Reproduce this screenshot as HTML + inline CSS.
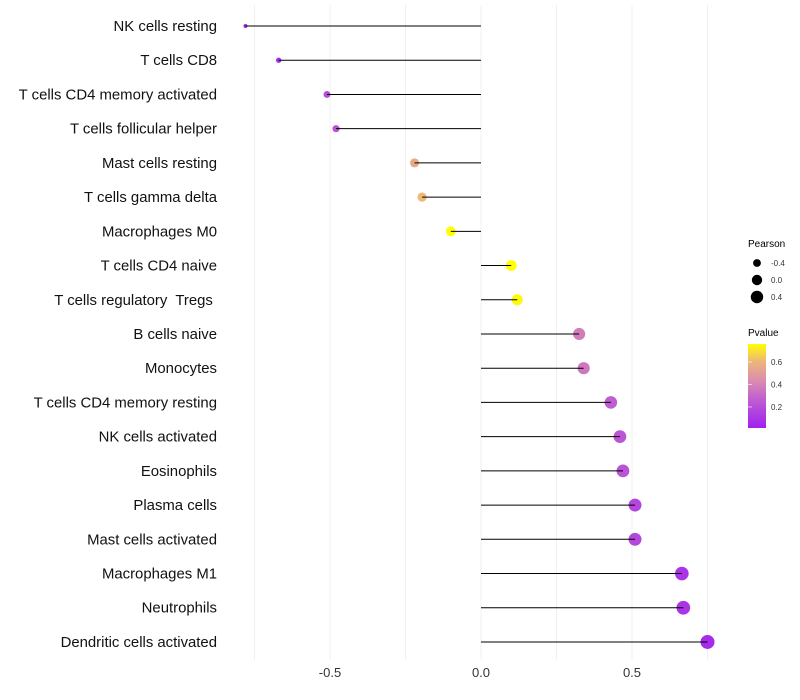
<!DOCTYPE html>
<html><head><meta charset="utf-8"><style>
body{margin:0;background:#fff;}
svg{display:block;font-family:"Liberation Sans",sans-serif;}
</style></head><body>
<svg id="chart" width="800" height="700">
<defs><linearGradient id="pg" x1="0" y1="1" x2="0" y2="0">
<stop offset="0" stop-color="#A020F0"/><stop offset="0.35" stop-color="#C060D0"/><stop offset="0.55" stop-color="#DA8AB0"/><stop offset="0.8" stop-color="#EDB878"/><stop offset="1" stop-color="#FFFF00"/></linearGradient></defs>
<g id="grid"></g>
<g id="marks"></g>
<g id="labels"></g>
<g id="ticks"></g>
<g>
<text x="748" y="247" font-size="10">Pearson</text>
<g id="sizeLeg"></g>
</g>
<g>
<text x="748" y="336" font-size="10">Pvalue</text>
<rect x="748" y="344" width="18" height="84" fill="url(#pg)"/>
<g id="colLeg"></g>
</g>
</svg>
<script>
const cells=["NK cells resting","T cells CD8","T cells CD4 memory activated","T cells follicular helper","Mast cells resting","T cells gamma delta","Macrophages M0","T cells CD4 naive","T cells regulatory  Tregs ","B cells naive","Monocytes","T cells CD4 memory resting","NK cells activated","Eosinophils","Plasma cells","Mast cells activated","Macrophages M1","Neutrophils","Dendritic cells activated"];
const pearson=[-0.78,-0.67,-0.51,-0.48,-0.22,-0.195,-0.10,0.10,0.12,0.325,0.34,0.43,0.46,0.47,0.51,0.51,0.665,0.67,0.75];
const pvalue=[0.05,0.08,0.2,0.22,0.55,0.6,0.76,0.76,0.75,0.38,0.36,0.27,0.24,0.23,0.17,0.17,0.1,0.1,0.06];
const xTicks=[-0.5,0,0.5];
const gridVals=[-0.75,-0.5,-0.25,0,0.25,0.5,0.75];
const sizeLegVals=[-0.4,0.0,0.4];
const colLegVals=[0.2,0.4,0.6];
const NS="http://www.w3.org/2000/svg";
const X=v=>481+v*302;
const Y=i=>26+i*34.22;
const R=v=>Math.sqrt(Math.max(1.5,27+29.5*v));
const stops=[[0.013,[160,32,240]],[0.28,[192,96,208]],[0.43,[218,138,176]],[0.6,[237,184,120]],[0.76,[255,255,0]]];
function col(p){if(p<=stops[0][0])return `rgb(${stops[0][1]})`;for(let k=1;k<stops.length;k++){if(p<=stops[k][0]){const a=stops[k-1],b=stops[k],t=(p-a[0])/(b[0]-a[0]);return `rgb(${a[1].map((c,j)=>Math.round(c+(b[1][j]-c)*t))})`;}}return "rgb(255,255,0)";}
function mk(tag,attrs,parent,text){const e=document.createElementNS(NS,tag);for(const k in attrs)e.setAttribute(k,attrs[k]);if(text!==undefined)e.textContent=text;document.getElementById(parent).appendChild(e);return e;}
gridVals.forEach(v=>{const e=mk('line',{x1:X(v),x2:X(v),y1:5,y2:660,stroke:'#f0f0f0','stroke-width':1},'grid');

});
cells.forEach((c,i)=>{
const p=mk('circle',{cx:X(pearson[i]),cy:Y(i),r:R(pearson[i]),fill:col(pvalue[i])},'marks');


const s=mk('line',{x1:X(0),x2:X(pearson[i]),y1:Y(i),y2:Y(i),stroke:'#000','stroke-width':1},'marks');


const t=mk('text',{x:217,y:Y(i)+5,'text-anchor':'end','font-size':14.9,fill:'#111'},'labels',c);


t.setAttribute('xml:space','preserve');t.style.whiteSpace='pre';
});
xTicks.forEach(v=>{const t=mk('text',{x:X(v),y:677,'text-anchor':'middle','font-size':13,fill:'#333'},'ticks',v===0?'0.0':v.toFixed(1));

});
sizeLegVals.forEach((v,i)=>{const y=263+i*17;
const c=mk('circle',{cx:757,cy:y,r:R(v),fill:'#000'},'sizeLeg');


const t=mk('text',{x:771,y:y+3,'font-size':8,fill:'#333'},'sizeLeg',v.toFixed(1));

});
colLegVals.forEach(v=>{const y=344+(0.76-v)/0.747*84;
const l=mk('line',{x1:748,x2:752,y1:y,y2:y,stroke:'#fff','stroke-width':0.6},'colLeg');


const t=mk('text',{x:771,y:y+3,'font-size':8,fill:'#333'},'colLeg',v.toFixed(1));

});
</script>
</body></html>
